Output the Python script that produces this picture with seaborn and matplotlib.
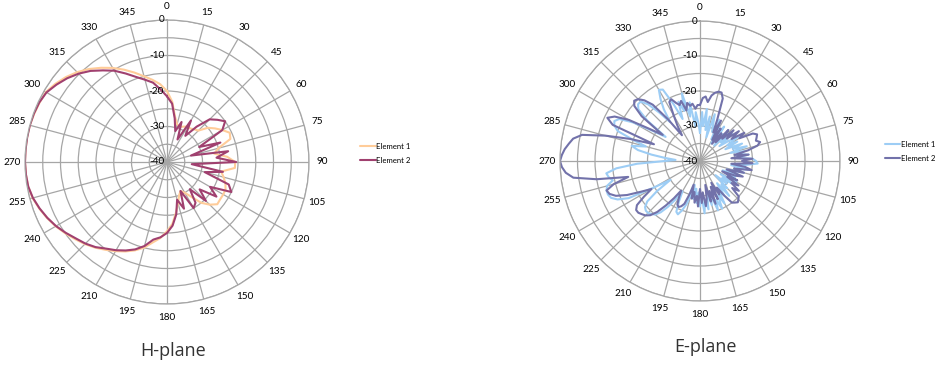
import numpy as np
import pandas as pd
import matplotlib
matplotlib.use("Agg")
import matplotlib.pyplot as plt
import seaborn as sns

# ---- data (dB) ----
# H-plane: one value every 5 degrees, 0..355
H_ANGLES = np.arange(0, 360, 5)
H_ELEMENT_1 = [
    -20, -23, -27, -29, -29.5, -29, -28.5, -28.5, -28, -27.5, -25, -23.5,
    -22, -20.5, -21, -25, -26.5, -23, -20.8, -20.8, -24.5, -23.5, -22.5, -21.8,
    -21.7, -21.7, -21.5, -23, -25, -28, -30, -31, -30, -28, -25.5, -22.5,
    -20.5, -18.5, -17, -15, -13.5, -12.2, -11, -9.8, -8.5, -7.3, -6.2, -5,
    -3.8, -2.7, -1.7, -0.8, -0.3, -0.1, 0, 0, 0, 0, -0.2, -0.4,
    -0.6, -1.6, -2.8, -4.2, -5.8, -7.6, -9.4, -11.3, -13.2, -15, -16.5, -18,
]
H_ELEMENT_2 = [
    -21.5, -23.5, -27.5, -31, -28, -33, -26.5, -31, -27, -23, -21.5, -20,
    -22, -30, -24, -33, -22.5, -26, -20.5, -33, -24, -29, -21.5, -20,
    -26, -23, -28, -24.5, -30, -26, -25, -31, -26, -29, -25, -22,
    -20, -18.7, -17.8, -15.5, -13.8, -12.5, -11.3, -10.2, -8.7, -7.5, -6.5, -5.2,
    -3.9, -2.8, -1.8, -0.9, -0.3, -0.1, 0, 0, 0, 0, -0.1, -0.3,
    -0.8, -2, -3.3, -4.8, -6.5, -8.5, -10.3, -12.5, -14.5, -16, -17.3, -19.5,
]

# E-plane: one value every 2.5 degrees, 0..357.5
E_ANGLES = np.arange(0, 360, 2.5)
E_ELEMENT_1 = [
    -32, -26, -30, -25, -31, -27, -33, -26, -29, -31, -27, -33,
    -29, -34, -28, -32, -30, -34, -29, -32, -28, -33, -30, -27,
    -31, -28, -32, -27, -30, -26, -31, -27, -29, -26, -30, -25,
    -24, -23.5, -27, -31, -26, -30, -27, -32, -28, -33, -29, -31,
    -28, -33, -29, -32, -30, -34, -29, -31, -27, -32, -28, -30,
    -26, -29, -25, -28, -25, -30, -27, -31, -26, -29, -25, -30,
    -27, -31, -28, -32, -29, -33, -30, -27, -25, -23.5, -24, -27,
    -30, -27, -24, -21.5, -20, -19.5, -19, -19, -19.5, -21, -25, -30,
    -25, -17, -14, -12.5, -12, -12, -12.5, -14.5, -13.5, -13, -16, -22,
    -30, -33, -30, -26, -22, -20, -24, -20, -15, -13.5, -13, -14,
    -18, -24, -28, -21, -17, -16, -16, -18, -22, -26, -22, -19,
    -16.5, -17, -22, -27, -22, -25, -20, -27, -23, -30, -26, -29,
]
E_ELEMENT_2 = [
    -24, -22, -21.5, -23, -21, -20, -19.5, -19.5, -21, -27, -31, -27,
    -33, -29, -34, -30, -33, -28, -31, -27, -30, -26, -29, -25,
    -27, -23, -22, -22.5, -23, -22, -23, -26, -30, -26, -31, -25,
    -28, -25, -31, -27, -25, -30, -27, -32, -27, -29, -33, -28,
    -31, -27, -29, -26, -28, -25, -24.5, -24, -24.5, -25, -28, -31,
    -29, -33, -28, -32, -27, -31, -28, -33, -29, -27, -31, -28,
    -32, -27, -30, -28, -31, -29, -33, -30, -27, -26, -25.5, -26,
    -28, -30, -27, -24, -21, -19, -18, -17.5, -17, -17, -18, -21,
    -24, -21, -17, -14, -12.5, -12, -14.5, -19, -10, -3.5, -1.5, -0.5,
    0, -0.5, -1.2, -2.2, -3.2, -5.5, -12, -19, -26, -13, -10.8, -12.5,
    -16.5, -23, -27, -19, -15.5, -14.5, -15, -16.5, -19, -25, -31, -28,
    -25, -21, -20.5, -22, -23, -22, -25, -23, -24, -23.5, -25, -24,
]

R_MIN, R_MAX = -40, 0
R_LABELS = [-40, -30, -20, -10, 0]
ANGLE_LABELS = list(range(0, 360, 15))


def to_frame(angles, e1, e2):
    rows = []
    for name, vals in (("Element 1", e1), ("Element 2", e2)):
        a = list(angles) + [360]
        v = list(vals) + [vals[0]]
        rows.append(pd.DataFrame({"theta": np.deg2rad(a), "r": v, "series": name}))
    return pd.concat(rows, ignore_index=True)


def draw_plane(ax, df, colors, title, legend_anchor, title_x):
    ax.set_theta_zero_location("N")
    ax.set_theta_direction(-1)
    sns.lineplot(data=df, x="theta", y="r", hue="series", palette=colors,
                 sort=False, estimator=None, linewidth=1.5, ax=ax)
    ax.set_ylim(R_MIN, R_MAX)
    ax.set_yticks(range(R_MIN, R_MAX + 1, 5))
    ax.set_yticklabels([])
    ax.set_xticks(np.deg2rad(ANGLE_LABELS))
    ax.set_xticklabels([str(a) for a in ANGLE_LABELS], fontsize=7.2,
                       color="#000000", fontfamily="Lato")
    ax.tick_params(axis="x", pad=2.5, size=0)
    ax.grid(True, color="#a6a6a6", linewidth=0.9)
    ax.spines["polar"].set_color("#a6a6a6")
    ax.spines["polar"].set_linewidth(0.9)
    ax.set_xlabel("")
    ax.set_ylabel("")
    for v in R_LABELS:
        ax.annotate(str(v), xy=(0, v), xytext=(-2, 0), textcoords="offset points",
                    ha="right", va="center", fontsize=7.2, color="#000000",
                    fontfamily="Lato")
    sns.move_legend(ax, "center left", bbox_to_anchor=legend_anchor, frameon=False,
                    title=None, prop={"family": "Lato", "size": 5.6},
                    labelcolor="#000000",
                    handlelength=2.0, handletextpad=0.1, labelspacing=0.95)
    ax.text(title_x, -0.165, title, transform=ax.transAxes, ha="center", va="center",
            fontsize=13, color="#333333", fontfamily="Open Sans")


sns.set_style("white")
fig = plt.figure(figsize=(9.37, 3.67), dpi=100)

ax_h = fig.add_axes([25 / 937, 63 / 367, 284 / 937, 284 / 367], projection="polar")
ax_e = fig.add_axes([560 / 937, 66 / 367, 280 / 937, 280 / 367], projection="polar")

draw_plane(ax_h, to_frame(H_ANGLES, H_ELEMENT_1, H_ELEMENT_2),
           ["#ffcc99", "#a0406f"], "H-plane", (1.155, 0.53), 0.52)
draw_plane(ax_e, to_frame(E_ANGLES, E_ELEMENT_1, E_ELEMENT_2),
           ["#9dcdf5", "#7272aa"], "E-plane", (1.135, 0.535), 0.52)

fig.savefig("out.png", dpi=100)
